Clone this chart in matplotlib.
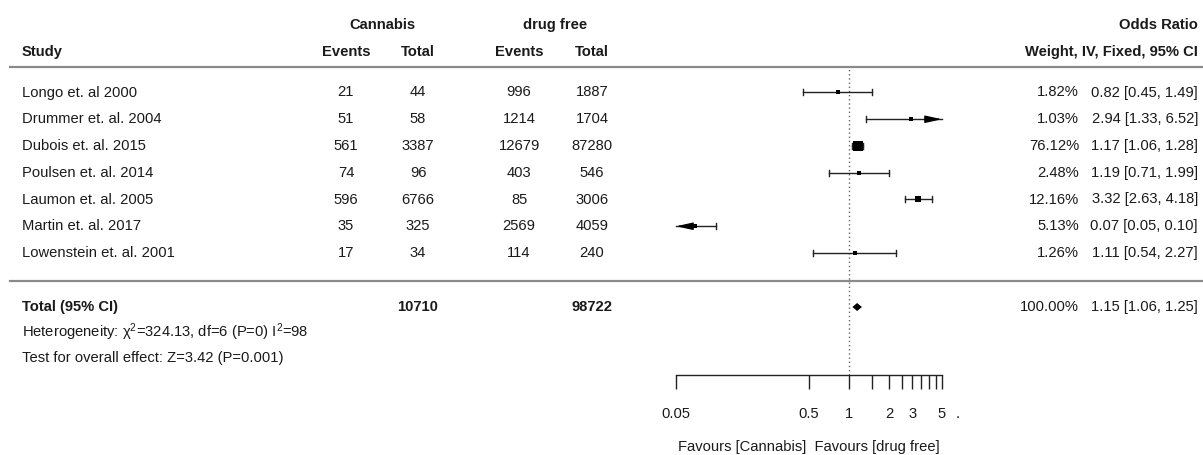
import numpy as np
import matplotlib
matplotlib.use("Agg")
import matplotlib.pyplot as plt
from matplotlib.ticker import FixedLocator, NullFormatter

plt.rcParams['font.family'] = ['Liberation Sans', 'DejaVu Sans']
plt.rcParams['mathtext.fontset'] = 'custom'
plt.rcParams['mathtext.rm'] = 'Liberation Sans'
plt.rcParams['mathtext.it'] = 'Liberation Sans:italic'

# data
studies = ["Longo et. al 2000", "Drummer et. al. 2004", "Dubois et. al. 2015",
           "Poulsen et. al. 2014", "Laumon et. al. 2005", "Martin et. al. 2017",
           "Lowenstein et. al. 2001"]
can_events = [21, 51, 561, 74, 596, 35, 17]
can_total = [44, 58, 3387, 96, 6766, 325, 34]
free_events = [996, 1214, 12679, 403, 85, 2569, 114]
free_total = [1887, 1704, 87280, 546, 3006, 4059, 240]
weights = [1.82, 1.03, 76.12, 2.48, 12.16, 5.13, 1.26]
odds = [0.82, 2.94, 1.17, 1.19, 3.32, 0.07, 1.11]
lower = [0.45, 1.33, 1.06, 0.71, 2.63, 0.05, 0.54]
upper = [1.49, 6.52, 1.28, 1.99, 4.18, 0.10, 2.27]
total_can = 10710
total_free = 98722
total_or, total_lo, total_hi = 1.15, 1.06, 1.25
tick_major = [0.05, 0.5, 1, 2, 3, 5]
tick_minor = [1.5, 2.5, 3.5, 4, 4.5]
xlims = (0.05, 5)

W, H = 1203, 455
fig = plt.figure(figsize=(W/100, H/100), dpi=100)
TXT = '#1a1a1a'
FS = 10.6

def put(x, y, s, ha='left', bold=False, size=FS):
	fig.text(x/W, 1-y/H, s, ha=ha, va='center', fontsize=size, color=TXT,
	         fontweight='bold' if bold else 'normal')

# headers
put(382, 25, "Cannabis", 'center', True)
put(555, 25, "drug free", 'center', True)
put(1198, 25, "Odds Ratio", 'right', True)
put(22, 52, "Study", bold=True)
put(346, 52, "Events", 'center', True)
put(418, 52, "Total", 'center', True)
put(519, 52, "Events", 'center', True)
put(592, 52, "Total", 'center', True)
put(1198, 52, "Weight, IV, Fixed, 95% CI", 'right', True)

for yy in [66.5, 281]:
	fig.add_artist(plt.Line2D([10/W, 1], [1-yy/H, 1-yy/H], color='#8a8a8a', lw=1.6))

y0, step = 92.5, 26.75
rows_y = [y0 + step*i for i in range(len(studies))]
for i, yy in enumerate(rows_y):
	put(22, yy, studies[i])
	put(346, yy, str(can_events[i]), 'center')
	put(418, yy, str(can_total[i]), 'center')
	put(519, yy, str(free_events[i]), 'center')
	put(592, yy, str(free_total[i]), 'center')
	put(1079, yy, "%.2f%%" % weights[i], 'right')
	put(1198, yy, "%.2f [%.2f, %.2f]" % (odds[i], lower[i], upper[i]), 'right')

ty = 307
put(22, ty, "Total (95% CI)", bold=True)
put(418, ty, str(total_can), 'center', True)
put(592, ty, str(total_free), 'center', True)
put(1079, ty, "100.00%", 'right')
put(1198, ty, "%.2f [%.2f, %.2f]" % (total_or, total_lo, total_hi), 'right')
put(22, 332, "Heterogeneity: χ$^{2}$=324.13, df=6 (P=0) I$^{2}$=98")
put(22, 358, "Test for overall effect: Z=3.42 (P=0.001)")
put(958, 414, ".", 'center')

# forest panel
ax = fig.add_axes([676/W, (H-375)/H, (942-676)/W, (375-66)/H])
ax.set_xscale('log')
ax.set_xlim(*xlims)
ax.set_ylim(375, 66)
for s in ['top', 'right', 'left']:
	ax.spines[s].set_visible(False)
ax.spines['bottom'].set_color('#222222')
ax.spines['bottom'].set_linewidth(1.0)
ax.set_yticks([])
ax.xaxis.set_major_locator(FixedLocator(tick_major))
ax.xaxis.set_minor_locator(FixedLocator(tick_minor))
ax.xaxis.set_major_formatter(plt.FixedFormatter([str(t) for t in tick_major]))
ax.xaxis.set_minor_formatter(NullFormatter())
ax.tick_params(axis='x', which='both', direction='out', length=10, width=1.0,
               color='#222222', labelsize=FS, labelcolor=TXT, pad=13)
ax.set_xlabel("Favours [Cannabis]  Favours [drug free]", fontsize=FS, color=TXT, labelpad=14)

ax.axvline(1, ls=(0, (1, 2)), color='#666666', lw=1.0)

lc = '#222222'
arrow = dict(arrowstyle='-|>,head_length=1.0,head_width=0.22',
             color='black', lw=1.0, shrinkA=0, shrinkB=0)
for i, yy in enumerate(rows_y):
	lo = max(lower[i], xlims[0])
	hi = min(upper[i], xlims[1])
	ax.plot([lo, hi], [yy, yy], color=lc, lw=1.0, clip_on=False)
	if lower[i] <= xlims[0]:
		ax.annotate('', xy=(xlims[0], yy), xytext=(lo*1.3, yy), arrowprops=arrow)
	else:
		ax.plot([lo, lo], [yy-3, yy+3], color=lc, lw=1.0)
	if upper[i] >= xlims[1]:
		ax.annotate('', xy=(xlims[1], yy), xytext=(hi/1.3, yy), arrowprops=arrow)
	else:
		ax.plot([hi, hi], [yy-3, yy+3], color=lc, lw=1.0)
	size_px = 2.6 + 0.95*np.sqrt(weights[i])
	ax.plot([odds[i]], [yy], marker='s', color='black', ms=size_px*0.72, mew=0, zorder=5)

# summary diamond
ax.fill([total_lo, total_or, total_hi, total_or], [ty, ty-4, ty, ty+4],
        color='black', lw=0, zorder=5)

fig.savefig("out.png", dpi=100)
